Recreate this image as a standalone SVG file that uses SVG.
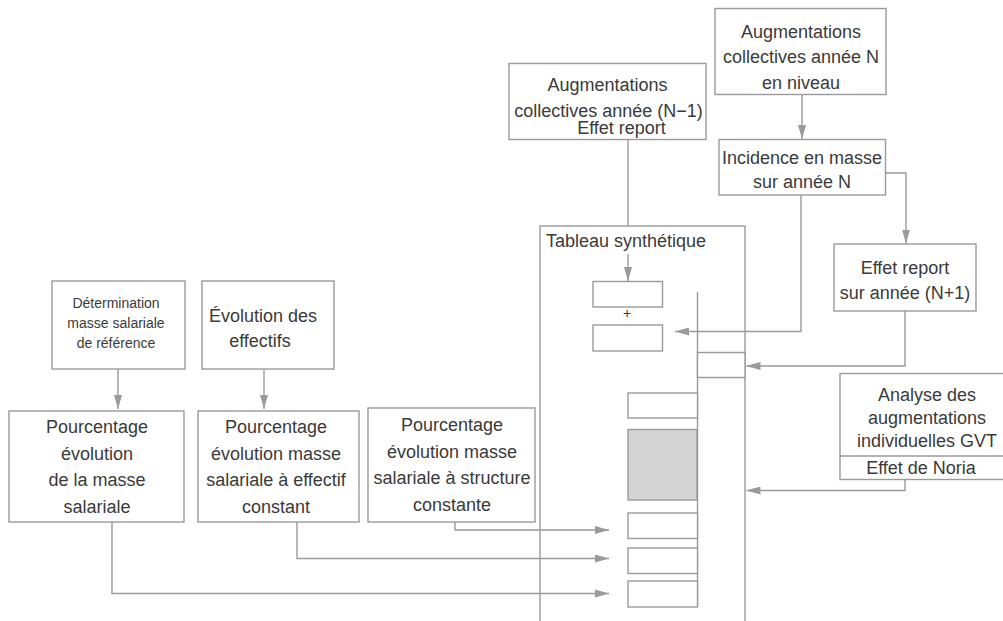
<svg xmlns="http://www.w3.org/2000/svg" width="1003" height="621" viewBox="0 0 1003 621">
<style>
.box{fill:#fff;stroke:#9a9a9a;stroke-width:1.4}
.gray{fill:#d4d4d4;stroke:#9a9a9a;stroke-width:1.4}
.ln{fill:none;stroke:#9a9a9a;stroke-width:1.4}
.t{font-family:"Liberation Sans",Arial,sans-serif;font-size:18px;fill:#3a3a3a;text-anchor:middle}
.s{font-family:"Liberation Sans",Arial,sans-serif;font-size:14px;fill:#3a3a3a;text-anchor:middle}
.st{text-anchor:start}
</style>
<defs>
<marker id="ah" markerUnits="userSpaceOnUse" markerWidth="14" markerHeight="8" refX="14" refY="4" orient="auto">
<path d="M0,0 L14,4 L0,8 z" fill="#9a9a9a"/>
</marker>
</defs>
<rect width="1003" height="621" fill="#fff"/>

<g id="tableau">
<rect class="box" x="540" y="226" width="205" height="420"/>
<text class="t st" x="546" y="247">Tableau synthétique</text>
<rect class="box" x="593" y="281.5" width="69.5" height="25.5"/>
<text class="s" x="627" y="318">+</text>
<rect class="box" x="593" y="325" width="69.5" height="26"/>
<line class="ln" x1="697.5" y1="292" x2="697.5" y2="607"/>
<rect class="box" x="697.5" y="352.5" width="47.5" height="25"/>
<rect class="box" x="628" y="393" width="69.5" height="25"/>
<rect class="gray" x="628" y="429.5" width="69" height="70.5"/>
<rect class="box" x="628" y="513" width="69.5" height="25.5"/>
<rect class="box" x="628" y="548" width="69.5" height="25.5"/>
<rect class="box" x="628" y="581" width="69.5" height="26"/>
</g>

<g id="n1">
<rect class="box" x="509" y="63.5" width="197" height="76"/>
<text class="t" x="607.5" y="91">Augmentations</text>
<text class="t" x="608.5" y="117">collectives année (N−1)</text>
<text class="t" x="621.5" y="134">Effet report</text>
</g>

<g id="nbox">
<rect class="box" x="715" y="8.5" width="171" height="86"/>
<text class="t" x="801" y="38">Augmentations</text>
<text class="t" x="801" y="63">collectives année N</text>
<text class="t" x="801" y="89">en niveau</text>
</g>

<g id="incidence">
<rect class="box" x="719" y="139.5" width="166.5" height="55.5"/>
<text class="t" x="802" y="164">Incidence en masse</text>
<text class="t" x="802" y="188">sur année N</text>
</g>

<g id="effetreport">
<rect class="box" x="834" y="244" width="142" height="67"/>
<text class="t" x="905" y="274">Effet report</text>
<text class="t" x="905" y="299">sur année (N+1)</text>
</g>

<g id="analyse">
<rect class="box" x="840" y="373.5" width="170" height="106"/>
<line class="ln" x1="840" y1="456" x2="1003" y2="456"/>
<text class="t" x="927" y="401">Analyse des</text>
<text class="t" x="927" y="424">augmentations</text>
<text class="t" x="927" y="447">individuelles GVT</text>
<text class="t" x="921" y="474">Effet de Noria</text>
</g>

<g id="determination">
<rect class="box" x="52" y="281" width="133" height="88"/>
<text class="s" x="116" y="308">Détermination</text>
<text class="s" x="116" y="328">masse salariale</text>
<text class="s" x="116" y="348">de référence</text>
</g>

<g id="effectifs">
<rect class="box" x="202" y="281" width="132" height="88"/>
<text class="t" x="263" y="322">Évolution des</text>
<text class="t" x="260" y="347">effectifs</text>
</g>

<g id="pctA">
<rect class="box" x="9" y="411" width="175" height="111"/>
<text class="t" x="97" y="433">Pourcentage</text>
<text class="t" x="97" y="459.5">évolution</text>
<text class="t" x="97" y="486">de la masse</text>
<text class="t" x="97" y="512.5">salariale</text>
</g>

<g id="pctB">
<rect class="box" x="198" y="411" width="161" height="111"/>
<text class="t" x="276" y="433">Pourcentage</text>
<text class="t" x="276" y="459.5">évolution masse</text>
<text class="t" x="276" y="486">salariale à effectif</text>
<text class="t" x="276" y="512.5">constant</text>
</g>

<g id="pctC">
<rect class="box" x="368" y="408" width="167" height="114"/>
<text class="t" x="452" y="431">Pourcentage</text>
<text class="t" x="452" y="457.5">évolution masse</text>
<text class="t" x="452" y="484">salariale à structure</text>
<text class="t" x="452" y="510.5">constante</text>
</g>

<g id="connectors">
<line class="ln" x1="628" y1="139.5" x2="628" y2="226"/>
<line class="ln" x1="628" y1="254" x2="628" y2="281" marker-end="url(#ah)"/>
<line class="ln" x1="802" y1="94.5" x2="802" y2="139" marker-end="url(#ah)"/>
<polyline class="ln" points="885.5,173 906,173 906,243.5" marker-end="url(#ah)"/>
<polyline class="ln" points="801,195 801,331.5 675,331.5" marker-end="url(#ah)"/>
<polyline class="ln" points="905,311 905,366 746.5,366" marker-end="url(#ah)"/>
<polyline class="ln" points="905,479.5 905,490.5 746.5,490.5" marker-end="url(#ah)"/>
<line class="ln" x1="118" y1="369" x2="118" y2="409" marker-end="url(#ah)"/>
<line class="ln" x1="264" y1="370" x2="264" y2="409" marker-end="url(#ah)"/>
<polyline class="ln" points="455,522 455,530 609,530" marker-end="url(#ah)"/>
<polyline class="ln" points="297,522 297,558.5 609,558.5" marker-end="url(#ah)"/>
<polyline class="ln" points="112,522 112,593.5 609,593.5" marker-end="url(#ah)"/>
</g>
</svg>
